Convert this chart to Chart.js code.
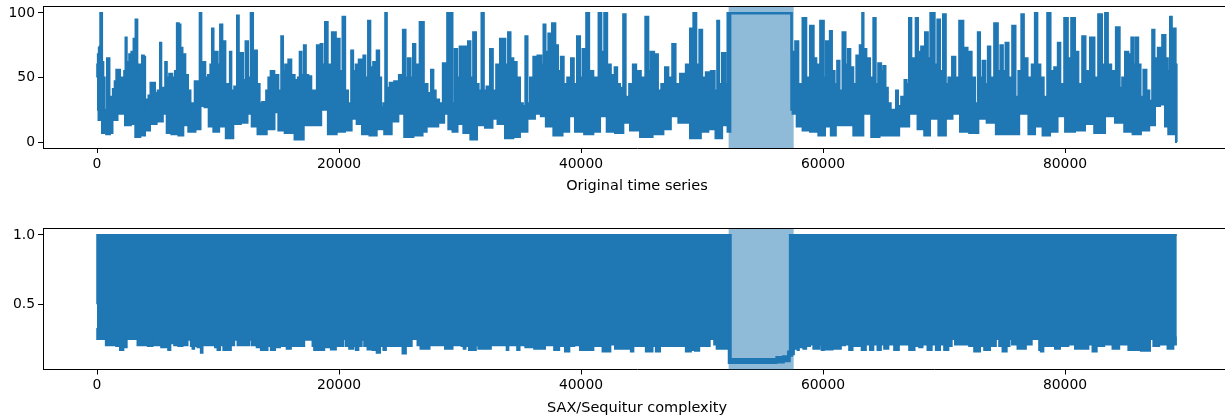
<!DOCTYPE html>
<html>
<head>
<meta charset="utf-8">
<style>
  html, body { margin: 0; padding: 0; background: #fff; overflow: hidden; }
  canvas { position: absolute; left: 0; }
  #topChart { top: -12px; }
  #bottomChart { top: 210px; }
</style>
<script src="https://cdn.jsdelivr.net/npm/chart.js@4"></script>
</head>
<body>
<canvas id="topChart" width="1231" height="222"></canvas>
<canvas id="bottomChart" width="1231" height="209"></canvas>
<script>
const xTicks = [0, 20000, 40000, 60000, 80000];
const topYTicks = [0, 50, 100];
const bottomYTicks = [0.5, 1.0];
const anomaly = [52200, 57575];

// upper and lower edge of the dense signal as [time, value]
const topHigh = [[0,50],[30,60],[110,68],[190,73],[250,74],[290,100],[370,100],[470,62],[580,50],[690,25],[770,23],[880,65],[990,65],[1070,30],[1240,35],[1380,41],[1540,47],[1650,56],[1850,56],[1960,45],[2070,50],[2180,40],[2310,55],[2400,81],[2510,50],[2590,62],[2730,68],[2950,70],[3090,80],[3280,95],[3390,55],[3530,60],[3640,30],[3800,67],[3940,66],[4020,25],[4130,33],[4380,36],[4460,46],[4710,46],[4880,38],[5150,40],[5260,77],[5370,40],[5570,42],[5700,62],[5840,50],[6090,53],[6360,50],[6530,55],[6670,92],[6860,91],[6940,73],[7190,68],[7410,52],[7630,40],[7820,30],[8020,25],[8130,47],[8400,47],[8570,100],[8680,60],[8840,62],[9060,50],[9280,52],[9450,60],[9560,88],[9700,50],[9890,70],[10060,60],[10280,91],[10440,60],[10500,78],[10720,45],[10940,45],[11020,70],[11190,40],[11490,43],[11650,98],[11790,50],[11980,69],[12150,48],[12400,78],[12560,50],[12840,100],[12950,65],[13110,71],[13330,45],[13550,30],[13750,31],[13880,28],[14080,40],[14240,50],[14460,55],[14850,52],[15130,40],[15320,82],[15430,55],[15670,60],[15950,64],[16170,52],[16500,48],[16700,50],[16800,70],[17000,52],[17190,75],[17330,52],[17600,51],[17820,40],[18100,40],[18240,75],[18380,55],[18570,76],[18710,60],[18980,93],[19150,60],[19670,85],[19810,60],[19970,80],[20140,55],[20440,97],[20580,40],[20910,30],[21100,71],[21240,55],[21520,60],[21740,64],[21960,55],[22070,67],[22290,50],[22510,94],[22670,58],[22980,62],[23250,71],[23390,50],[23580,27],[23750,30],[23890,100],[24020,42],[24350,46],[24770,47],[25130,52],[25430,87],[25570,50],[25810,65],[26030,50],[26200,76],[26420,60],[26910,93],[27110,45],[27520,38],[27690,56],[27910,40],[28070,33],[28480,30],[28680,61],[28900,60],[28980,100],[29310,100],[29450,30],[29670,72],[29860,50],[30080,74],[30550,74],[30770,78],[30960,50],[31210,85],[31430,45],[31650,40],[31900,100],[32040,40],[32340,43],[32620,72],[32810,40],[33170,60],[33440,80],[33640,80],[33860,60],[34080,85],[34270,65],[34550,62],[34820,50],[35100,30],[35290,28],[35510,82],[35650,30],[35920,50],[36200,66],[36610,67],[36830,60],[36970,91],[37160,70],[37440,84],[37770,92],[37990,75],[38210,55],[38460,66],[38680,45],[39040,50],[39310,65],[39500,45],[39840,82],[40000,50],[40250,72],[40610,100],[40740,55],[41300,50],[41600,100],[41770,70],[42070,100],[42260,60],[42670,52],[42890,58],[43090,45],[43360,42],[43610,99],[43770,35],[44190,45],[44380,60],[44740,55],[45150,50],[45480,97],[45650,55],[45840,70],[46250,68],[46470,40],[46800,45],[47080,58],[47360,50],[47720,76],[47910,45],[48460,53],[48870,60],[49150,88],[49420,100],[49640,60],[49920,87],[50110,50],[50520,54],[50940,55],[51160,40],[51350,94],[51490,45],[51820,69],[52040,45],[52170,100],[57350,100],[57500,70],[57578,67],[57825,78],[58100,45],[58510,96],[58730,50],[59120,90],[59340,65],[59560,60],[59970,94],[60170,50],[60330,78],[60500,55],[60630,86],[60850,55],[61070,45],[61270,63],[61460,40],[61760,85],[61960,60],[62150,72],[62370,58],[62640,45],[62870,67],[63200,75],[63280,100],[63420,72],[63750,65],[64020,50],[64300,96],[64410,45],[64710,61],[64900,55],[65070,59],[65260,42],[65460,30],[65730,25],[65950,25],[66120,40],[66280,28],[66640,35],[66830,48],[67000,45],[67220,96],[67380,50],[67550,65],[67770,96],[67930,70],[68290,74],[68570,85],[68760,65],[68980,100],[69150,100],[69310,60],[69590,95],[69750,55],[70080,99],[70220,45],[70500,50],[70830,66],[71050,50],[71460,94],[71740,73],[72150,70],[72420,50],[72700,30],[72890,85],[73060,50],[73310,63],[73530,45],[73720,74],[73940,50],[74350,92],[74550,55],[74770,75],[74960,55],[75210,77],[75460,50],[75810,90],[76010,35],[76280,55],[76500,99],[76700,65],[77110,50],[77390,60],[77630,100],[77800,60],[78130,50],[78350,35],[78710,100],[78900,55],[79310,58],[79500,77],[79730,45],[80140,96],[80330,65],[80690,96],[80970,70],[81240,45],[81600,82],[81790,55],[82340,81],[82530,50],[82950,99],[83170,60],[83450,100],[83640,60],[84000,55],[84410,89],[84630,42],[84820,50],[85100,70],[85370,68],[85590,81],[85730,60],[85950,81],[86150,60],[86340,35],[86620,56],[86840,40],[87110,32],[87300,87],[87490,65],[87850,73],[88210,83],[88400,65],[88600,55],[88760,97],[88900,60],[89090,88],[89200,60],[89250,0]];
const topLow = [[0,25],[250,17],[580,7],[940,6],[1210,7],[1350,17],[2040,22],[2590,13],[3000,14],[3330,4],[3830,5],[4100,9],[4660,14],[5200,16],[5680,22],[5840,7],[6450,6],[7000,5],[7270,13],[7820,8],[8460,10],[8650,28],[9120,27],[9340,12],[9890,8],[10300,12],[10990,3],[11540,14],[12230,15],[12650,22],[12920,12],[13610,6],[14440,10],[14900,23],[15070,9],[15950,7],[16700,2],[17470,13],[18300,13],[18760,25],[19400,6],[20220,8],[20770,9],[21320,18],[21600,14],[22200,6],[22840,5],[23390,10],[24080,6],[24630,16],[25180,22],[25600,4],[26700,5],[27110,8],[27380,12],[27930,12],[28480,15],[28900,22],[29170,10],[29590,8],[30000,14],[30550,7],[31160,2],[31650,13],[32480,11],[32890,18],[33310,14],[34130,3],[34680,4],[35230,8],[35920,18],[36470,22],[36890,20],[37300,12],[38130,5],[38820,8],[39230,20],[39780,8],[40740,6],[41300,8],[41850,20],[42400,8],[43230,7],[43770,15],[44330,9],[45430,4],[46400,6],[47220,10],[47630,20],[48460,15],[49560,3],[50250,8],[50800,10],[51430,3],[51900,13],[52320,8],[52370,99.5],[57330,99.5],[57420,25],[57550,22],[58100,12],[58520,9],[59340,8],[59890,5],[60440,12],[60850,5],[61270,13],[62090,13],[62920,5],[63750,22],[64220,4],[65120,5],[65810,5],[66780,12],[67470,22],[68160,10],[68570,5],[69120,18],[69950,5],[70360,18],[71050,22],[71600,8],[72570,7],[73110,18],[73940,15],[74630,6],[75730,6],[76700,22],[77250,6],[77800,12],[78490,5],[79040,8],[79730,20],[80280,8],[81380,9],[81930,14],[82900,7],[83720,20],[84550,15],[85240,8],[85930,6],[86620,9],[87300,13],[87580,28],[88130,29],[88400,12],[88670,6],[89090,6],[89250,0]];

const bottomHigh = [[0,0.5],[40,1],[52350,1],[52400,0.105],[55870,0.105],[56420,0.12],[56970,0.125],[57250,0.16],[57270,1],[89240,1]];
const bottomLow = [[0,0.33],[40,0.25],[662,0.25],[800,0.205],[1130,0.205],[1213,0.25],[1406,0.205],[1764,0.2],[2039,0.17],[2315,0.19],[2590,0.25],[3279,0.25],[3417,0.205],[3692,0.205],[3775,0.25],[3885,0.205],[4519,0.2],[4657,0.245],[4794,0.205],[5814,0.19],[5951,0.17],[6172,0.22],[6310,0.25],[6447,0.205],[6998,0.2],[7136,0.245],[7274,0.205],[7687,0.245],[7825,0.2],[7963,0.18],[8100,0.2],[8514,0.19],[8651,0.15],[8789,0.25],[8927,0.205],[9340,0.205],[9478,0.25],[9616,0.205],[9891,0.19],[10029,0.17],[10304,0.205],[10580,0.17],[10993,0.17],[11131,0.205],[11544,0.245],[11682,0.205],[12508,0.205],[12646,0.245],[12922,0.205],[13473,0.19],[13610,0.17],[14024,0.17],[14161,0.2],[14575,0.17],[14851,0.19],[15401,0.2],[15952,0.18],[16090,0.2],[16779,0.2],[17467,0.245],[17743,0.245],[17881,0.2],[18018,0.17],[18432,0.17],[19120,0.19],[19534,0.175],[19947,0.2],[20140,0.25],[20222,0.2],[20498,0.25],[20635,0.2],[21049,0.18],[21324,0.2],[21462,0.17],[21738,0.2],[22013,0.245],[22151,0.2],[22564,0.175],[22977,0.17],[23253,0.15],[23529,0.2],[23804,0.17],[23942,0.2],[25044,0.2],[25457,0.145],[25595,0.2],[26420,0.25],[26557,0.205],[26915,0.18],[27383,0.18],[27576,0.205],[28623,0.205],[28899,0.18],[29312,0.18],[29450,0.205],[30000,0.205],[30083,0.25],[30193,0.2],[30414,0.18],[30496,0.25],[30607,0.2],[30882,0.17],[31240,0.17],[31378,0.205],[31654,0.18],[32342,0.18],[32755,0.205],[33802,0.205],[33913,0.17],[34078,0.205],[34629,0.205],[34822,0.17],[35015,0.205],[35786,0.19],[36475,0.18],[37577,0.205],[37990,0.17],[38403,0.2],[38954,0.16],[39119,0.25],[39230,0.2],[39643,0.205],[40194,0.17],[40745,0.17],[41296,0.2],[41572,0.2],[41985,0.16],[42315,0.16],[42536,0.21],[43087,0.18],[44051,0.18],[44189,0.16],[44465,0.2],[45153,0.2],[45566,0.16],[45842,0.16],[45980,0.2],[46393,0.16],[46669,0.2],[47633,0.2],[47715,0.25],[47825,0.2],[48459,0.2],[48872,0.16],[49286,0.17],[49561,0.165],[49974,0.2],[50525,0.2],[50745,0.25],[50938,0.25],[51076,0.21],[51352,0.18],[52041,0.18],[52180,0.18],[52240,0.076],[55870,0.076],[56420,0.08],[57110,0.09],[57400,0.13],[57500,0.14],[57690,0.18],[57824,0.2],[57962,0.17],[58044,0.2],[58182,0.19],[58320,0.205],[58430,0.18],[58788,0.2],[59064,0.21],[59339,0.18],[59615,0.18],[59808,0.21],[59973,0.17],[60166,0.175],[61406,0.18],[61543,0.205],[62094,0.21],[62232,0.17],[62645,0.2],[62783,0.25],[62921,0.2],[63472,0.17],[63610,0.25],[63747,0.21],[64023,0.17],[64298,0.21],[64712,0.17],[64849,0.21],[65263,0.18],[65538,0.21],[66227,0.17],[66310,0.21],[67053,0.21],[67191,0.17],[67522,0.17],[67604,0.25],[67742,0.2],[68155,0.19],[68293,0.25],[68431,0.21],[68844,0.17],[69120,0.21],[69533,0.17],[69808,0.21],[70222,0.17],[70497,0.2],[70773,0.25],[71048,0.21],[71875,0.21],[72012,0.25],[72150,0.2],[72839,0.16],[73114,0.2],[73528,0.17],[74079,0.2],[74492,0.25],[74630,0.2],[75043,0.16],[75318,0.2],[75511,0.25],[75731,0.21],[76420,0.18],[77109,0.21],[77385,0.25],[77798,0.25],[77936,0.17],[78073,0.16],[78349,0.2],[79038,0.2],[79313,0.18],[79864,0.2],[80691,0.21],[80966,0.18],[81793,0.18],[82068,0.21],[82481,0.16],[82757,0.2],[83721,0.21],[84134,0.18],[84823,0.21],[85650,0.17],[86889,0.165],[87165,0.25],[87440,0.2],[88129,0.21],[88818,0.18],[89093,0.21],[89240,0.26]];

const blue = '#1f77b4';
const tickFont = { family: 'DejaVu Sans', size: 13.9 };
const labelFont = { family: 'DejaVu Sans', size: 14.5 };

// axvspan and the top spine, the span goes over the line like in the original
const spanPlugin = {
  id: 'spanPlugin',
  afterDatasetsDraw(chart) {
    const { ctx, chartArea, scales } = chart;
    const x0 = scales.x.getPixelForValue(anomaly[0]);
    const x1 = scales.x.getPixelForValue(anomaly[1]);
    ctx.save();
    ctx.fillStyle = 'rgba(31, 119, 180, 0.5)';
    ctx.fillRect(x0, chartArea.top, x1 - x0, chartArea.bottom - chartArea.top);
    ctx.fillStyle = '#000';
    ctx.fillRect(chartArea.left, Math.round(chartArea.top) - 1, chartArea.right - chartArea.left, 1);
    ctx.restore();
  }
};

function toPoints(pairs) {
  return pairs.map(p => ({ x: p[0], y: p[1] }));
}

function makePanel(id, high, low, opts) {
  new Chart(document.getElementById(id).getContext('2d'), {
    type: 'line',
    data: {
      datasets: [
        { data: toPoints(high), borderColor: blue, backgroundColor: blue, borderWidth: 2, fill: '+1', pointRadius: 0, stepped: 'middle' },
        { data: toPoints(low), borderColor: blue, borderWidth: 2, fill: false, pointRadius: 0, stepped: 'middle' }
      ]
    },
    options: {
      responsive: false,
      animation: false,
      layout: { padding: { top: opts.top, left: 0, right: 0, bottom: 0 } },
      plugins: { legend: { display: false }, tooltip: { enabled: false } },
      scales: {
        x: {
          type: 'linear',
          min: -4463,
          max: 93719,
          afterBuildTicks: s => { s.ticks = xTicks.map(v => ({ value: v })); },
          afterFit: s => { s.height = opts.axisHeight; },
          grid: { drawOnChartArea: false, tickLength: 5, color: '#000' },
          border: { color: '#000', width: 1 },
          ticks: { color: '#000', font: tickFont, padding: 3, maxRotation: 0, autoSkip: false, callback: v => String(v) },
          title: { display: true, text: opts.title, color: '#000', font: labelFont, padding: { top: 0, bottom: opts.titlePad } }
        },
        y: {
          min: opts.yMin,
          max: opts.yMax,
          afterBuildTicks: s => { s.ticks = opts.yTicks.map(v => ({ value: v })); },
          afterFit: s => { s.width = 43; },
          grid: { drawOnChartArea: false, tickLength: 5, color: '#000' },
          border: { color: '#000', width: 1 },
          ticks: { color: '#000', font: tickFont, padding: 3, callback: opts.yLabel }
        }
      }
    },
    plugins: [spanPlugin]
  });
}

makePanel('topChart', topHigh, topLow, {
  top: 19, axisHeight: 62, title: 'Original time series', titlePad: 15.4,
  yMin: -4.6, yMax: 104.6, yTicks: topYTicks, yLabel: v => String(v)
});

makePanel('bottomChart', bottomHigh, bottomLow, {
  top: 19, axisHeight: 49.5, title: 'SAX/Sequitur complexity', titlePad: 2.4,
  yMin: 0.03, yMax: 1.043, yTicks: bottomYTicks, yLabel: v => v.toFixed(1)
});
</script>
</body>
</html>
